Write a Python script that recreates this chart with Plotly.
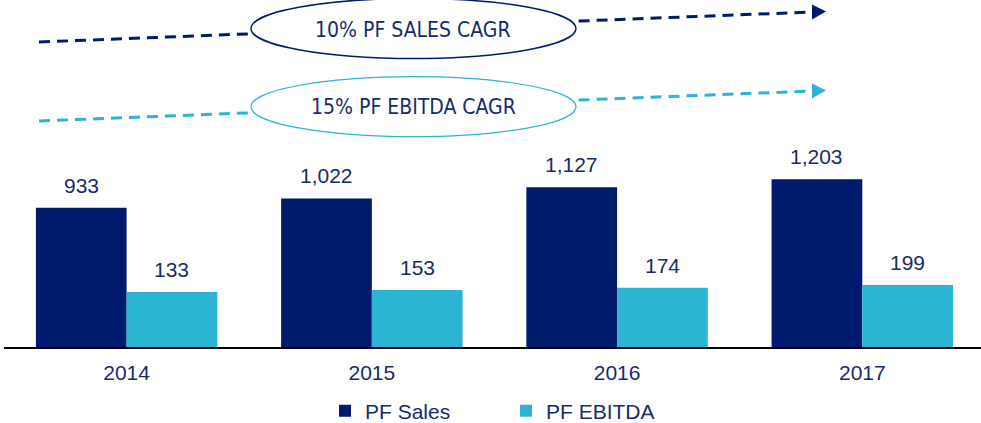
"""PF Sales / PF EBITDA grouped bar chart with CAGR callouts."""

import plotly.graph_objects as go

# ---------------------------------------------------------------------------
# Data
# ---------------------------------------------------------------------------

YEARS = ["2014", "2015", "2016", "2017"]
PF_SALES = [933, 1022, 1127, 1203]
PF_EBITDA = [133, 153, 174, 199]
CAGR_LABELS = ["10% PF SALES CAGR", "15% PF EBITDA CAGR"]

# ---------------------------------------------------------------------------
# Style
# ---------------------------------------------------------------------------

_COLORS = {
    "navy": "#001B6E",
    "cyan": "#2CB4D4",
    "text": "#172B6B",
    "axis": "#000000",
}

WIDTH, HEIGHT = 981, 423
MARGIN = {"l": 4, "r": 0, "t": 0, "b": 76}
BAR_GAP = 0.26
# the source chart starts its value axis below zero
AXIS_FLOOR = -389
AXIS_TOP = 2906
FONT = "Liberation Sans, Arial, sans-serif"
CALLOUT_FONT = "DejaVu Sans Condensed, Tahoma, DejaVu Sans, sans-serif"

PLOT_W = WIDTH - MARGIN["l"] - MARGIN["r"]
PLOT_H = HEIGHT - MARGIN["t"] - MARGIN["b"]


def _px(x: float) -> float:
    """Page pixel x -> paper x."""
    return (x - MARGIN["l"]) / PLOT_W


def _py(y: float) -> float:
    """Page pixel y -> paper y."""
    return (MARGIN["t"] + PLOT_H - y) / PLOT_H


def _arrow(x0, y0, x1, y1, tip_x, tip_y, half, color):
    """Dashed line plus a filled triangular head, in paper coords."""
    line = {
        "type": "line",
        "xref": "paper",
        "yref": "paper",
        "x0": _px(x0),
        "y0": _py(y0),
        "x1": _px(x1),
        "y1": _py(y1),
        "line": {"color": color, "width": 3, "dash": "11px,7px"},
    }
    head = {
        "type": "path",
        "xref": "paper",
        "yref": "paper",
        "path": (
            f"M{_px(x1)},{_py(y1 - half)} L{_px(tip_x)},{_py(tip_y)} "
            f"L{_px(x1)},{_py(y1 + half)} Z"
        ),
        "fillcolor": color,
        "line": {"width": 0},
    }
    return [line, head]


def _ellipse(x0, y0, x1, y1, color, width):
    return {
        "type": "circle",
        "xref": "paper",
        "yref": "paper",
        "x0": _px(x0),
        "y0": _py(y1),
        "x1": _px(x1),
        "y1": _py(y0),
        "fillcolor": "white",
        "line": {"color": color, "width": width},
    }


# ---------------------------------------------------------------------------
# Figure
# ---------------------------------------------------------------------------

fig = go.Figure()
for name, values, color in [
    ("PF Sales", PF_SALES, _COLORS["navy"]),
    ("PF EBITDA", PF_EBITDA, _COLORS["cyan"]),
]:
    fig.add_trace(
        go.Bar(
            name=name,
            x=YEARS,
            y=[v - AXIS_FLOOR for v in values],
            base=AXIS_FLOOR,
            customdata=values,
            hovertemplate="%{x}: %{customdata:,}<extra>" + name + "</extra>",
            marker={"color": color, "line": {"width": 0}},
        )
    )

# value labels above each bar
offset = (1 - BAR_GAP) / 4
annotations = []
for i, year in enumerate(YEARS):
    for values, dx in [(PF_SALES, -offset), (PF_EBITDA, offset)]:
        annotations.append(
            {
                "x": i + dx,
                "y": values[i],
                "xref": "x",
                "yref": "y",
                "text": f"{values[i]:,}",
                "showarrow": False,
                "yanchor": "bottom",
                "yshift": 9,
                "font": {"family": FONT, "size": 21, "color": _COLORS["text"]},
            }
        )

# CAGR callouts
shapes = []
shapes += _arrow(39, 42, 812, 12, 826, 11.5, 7.5, _COLORS["navy"])
shapes += _arrow(39, 121, 812, 91, 826, 90.5, 7.5, _COLORS["cyan"])
shapes.append(_ellipse(251, -1.5, 576, 58.5, _COLORS["navy"], 1.5))
shapes.append(_ellipse(251, 76.7, 576, 136.7, _COLORS["cyan"], 1.2))

for label, cy in zip(CAGR_LABELS, [29.5, 106.7]):
    annotations.append(
        {
            "x": _px(413),
            "y": _py(cy),
            "xref": "paper",
            "yref": "paper",
            "text": label,
            "showarrow": False,
            "xanchor": "center",
            "yanchor": "middle",
            "font": {"family": CALLOUT_FONT, "size": 21, "color": _COLORS["text"]},
        }
    )

fig.update_layout(
    width=WIDTH,
    height=HEIGHT,
    margin=MARGIN,
    paper_bgcolor="white",
    plot_bgcolor="white",
    barmode="group",
    bargap=BAR_GAP,
    bargroupgap=0,
    showlegend=True,
    legend={
        "orientation": "h",
        "xref": "container",
        "yref": "container",
        "x": 325 / WIDTH,
        "y": 1 - 411 / HEIGHT,
        "xanchor": "left",
        "yanchor": "middle",
        "entrywidth": 136,
        "font": {"family": FONT, "size": 21, "color": _COLORS["text"]},
        "bgcolor": "rgba(0,0,0,0)",
    },
    xaxis={
        "type": "category",
        "range": [-0.5, 3.484],
        "showline": True,
        "linecolor": _COLORS["axis"],
        "linewidth": 2,
        "showgrid": False,
        "ticks": "",
        "ticklabelstandoff": 6,
        "tickfont": {"family": FONT, "size": 21, "color": _COLORS["text"]},
        "fixedrange": True,
    },
    yaxis={
        "visible": False,
        "range": [AXIS_FLOOR, AXIS_TOP],
        "fixedrange": True,
    },
    shapes=shapes,
    annotations=annotations,
)

# drop the browser's default page margin so the figure sits at the corner
fig.write_html(
    "out.html",
    config={"displayModeBar": False},
    post_script="document.body.style.margin = '0';",
)
